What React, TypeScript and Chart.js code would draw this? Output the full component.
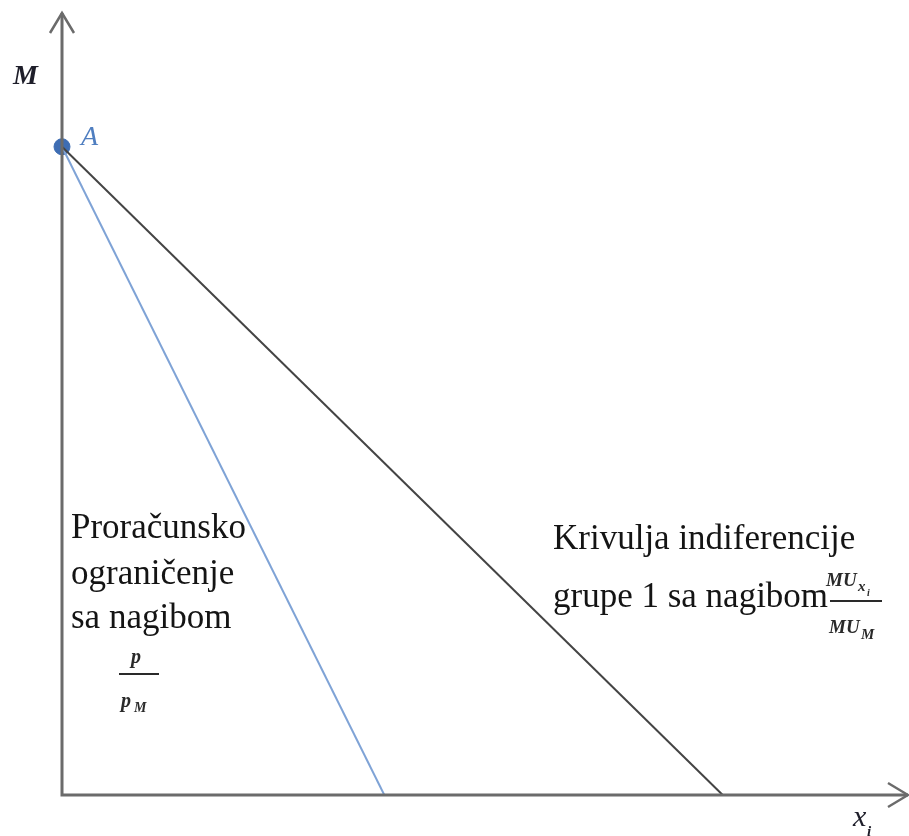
import React, { useEffect, useRef } from "react";
import { Chart, registerables } from "chart.js";

Chart.register(...registerables);

// Data (arbitrary units, axis 0..10)
const pointA = [{ x: 0, y: 8.29 }];
const budgetLine = [
  { x: 0, y: 8.29 },
  { x: 3.81, y: 0 },
];
const indifferenceLine = [
  { x: 0, y: 8.29 },
  { x: 7.81, y: 0 },
];
const leftLabel = ["Proračunsko", "ograničenje", "sa nagibom"];
const rightLabel = ["Krivulja indiferencije", "grupe 1 sa nagibom"];

const SERIF = '"Liberation Serif", "Times New Roman", serif';

const overlay = {
  id: "overlay",
  afterDatasetsDraw(chart: any) {
    const ctx = chart.ctx as CanvasRenderingContext2D;
    const { left, right, top, bottom } = chart.chartArea;
    ctx.save();
    // axes
    ctx.strokeStyle = "#6b6b6b";
    ctx.lineWidth = 3;
    ctx.lineCap = "butt";
    ctx.beginPath();
    ctx.moveTo(left, top);
    ctx.lineTo(left, bottom);
    ctx.lineTo(right, bottom);
    ctx.stroke();
    ctx.lineWidth = 2.5;
    ctx.lineJoin = "miter";
    ctx.beginPath();
    ctx.moveTo(left - 12, top + 20);
    ctx.lineTo(left, top);
    ctx.lineTo(left + 12, top + 20);
    ctx.stroke();
    ctx.beginPath();
    ctx.moveTo(right - 20, bottom - 12);
    ctx.lineTo(right, bottom);
    ctx.lineTo(right - 20, bottom + 12);
    ctx.stroke();

    // axis labels
    ctx.fillStyle = "#1e1e2a";
    ctx.textAlign = "left";
    ctx.textBaseline = "alphabetic";
    ctx.font = `italic bold 28px ${SERIF}`;
    ctx.fillText("M", 13, 84);
    ctx.font = `italic 30px ${SERIF}`;
    ctx.fillText("x", 853, 826);
    ctx.font = `italic bold 15px ${SERIF}`;
    ctx.fillText("i", 867, 836);

    // point A label
    ctx.fillStyle = "#4f7ec0";
    ctx.font = `italic 28px ${SERIF}`;
    ctx.fillText("A", 81, 145);

    // left text
    ctx.fillStyle = "#141414";
    ctx.font = `35px ${SERIF}`;
    const lb = [538, 584, 628];
    leftLabel.forEach((t, i) => ctx.fillText(t, 71, lb[i]));
    // p / p_M
    ctx.font = `italic bold 20px ${SERIF}`;
    ctx.fillStyle = "#2a2a2a";
    ctx.textAlign = "center";
    ctx.fillText("p", 136, 663);
    ctx.fillRect(119, 673, 40, 2);
    ctx.textAlign = "left";
    ctx.fillText("p", 121, 707);
    ctx.font = `italic bold 14px ${SERIF}`;
    ctx.fillText("M", 134, 712);

    // right text
    ctx.fillStyle = "#141414";
    ctx.font = `35px ${SERIF}`;
    ctx.fillText(rightLabel[0], 553, 549);
    ctx.fillText(rightLabel[1], 553, 607);
    // MU_xi / MU_M
    ctx.fillStyle = "#2a2a2a";
    ctx.font = `italic bold 19px ${SERIF}`;
    ctx.fillText("MU", 826, 586);
    ctx.fillText("MU", 829, 633);
    ctx.font = `italic bold 15px ${SERIF}`;
    ctx.fillText("x", 858, 591);
    ctx.fillText("M", 861, 639);
    ctx.font = `italic bold 10px ${SERIF}`;
    ctx.fillText("i", 867, 596);
    ctx.fillRect(830, 600, 52, 2);
    ctx.restore();
  },
};

export default function App() {
  const ref = useRef<HTMLCanvasElement>(null);
  useEffect(() => {
    if (!ref.current) return;
    const chart = new Chart(ref.current, {
      type: "scatter",
      data: {
        datasets: [
          {
            data: indifferenceLine,
            showLine: true,
            borderColor: "#444444",
            borderWidth: 2,
            pointRadius: 0,
            clip: false,
          } as any,
          {
            data: budgetLine,
            showLine: true,
            borderColor: "#7fa3d6",
            borderWidth: 2,
            pointRadius: 0,
            clip: false,
          } as any,
          {
            data: pointA,
            showLine: false,
            pointRadius: 8,
            backgroundColor: "#3e6db3",
            borderColor: "#3e6db3",
            borderWidth: 1,
            clip: false,
          } as any,
        ],
      },
      options: {
        responsive: false,
        animation: false,
        layout: { autoPadding: false, padding: { left: 62, right: 1, top: 13, bottom: 41 } },
        scales: {
          x: { type: "linear", min: 0, max: 10, display: false },
          y: { type: "linear", min: 0, max: 10, display: false },
        },
        plugins: {
          legend: { display: false },
          tooltip: { enabled: false },
          title: { display: false },
        },
      },
      plugins: [overlay],
    });
    return () => chart.destroy();
  }, []);
  return (
    <div style={{ position: "absolute", left: 0, top: 0, width: 909, height: 836, background: "#fff" }}>
      <canvas ref={ref} width={909} height={836} />
    </div>
  );
}
